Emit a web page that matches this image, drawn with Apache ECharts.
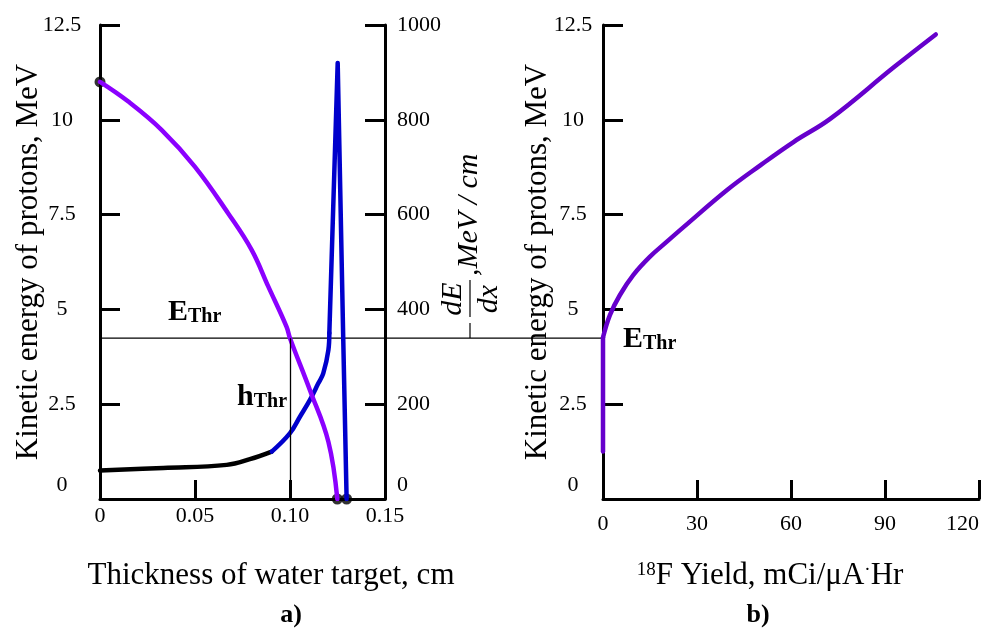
<!DOCTYPE html>
<html>
<head>
<meta charset="utf-8">
<title>Proton energy in water target and 18F yield</title>
<script src="https://cdn.jsdelivr.net/npm/echarts@6/dist/echarts.min.js"></script>
<style>
  html, body { margin: 0; padding: 0; background: #fff; }
  #main { width: 984px; height: 631px; }
</style>
</head>
<body>
<div id="main"></div>
<script>
// a) proton energy vs depth in water
var thickness = [0, 0.0149, 0.0325, 0.05, 0.0675, 0.0798, 0.0886, 0.0982, 0.1, 0.1105, 0.1202, 0.1249];
var energyA   = [11.0, 10.48, 9.73, 8.76, 7.53, 6.57, 5.60, 4.54, 4.24, 2.87, 1.51, 0];

// a) stopping power -dE/dx, black part and blue part
var thickLow  = [0, 0.0333, 0.0667, 0.0789, 0.0904];
var stopLow   = [60, 65.5, 72, 84, 100];
var thickHigh = [0.0904, 0.1, 0.1053, 0.1105, 0.1149, 0.1175, 0.1202, 0.1207, 0.1251, 0.128, 0.1298];
var stopHigh  = [100, 139, 174, 209, 244, 265, 314, 350, 920, 342, 0];

// b) 18F yield vs proton energy (first point: bottom of the vertical part)
var yieldF  = [0, 0, 2.2, 5.4, 9.7, 15.0, 20.3, 25.7, 39.6, 50.2, 60.9, 72.6, 92.9, 106.2];
var energyB = [1.25, 4.26, 4.85, 5.38, 5.91, 6.39, 6.78, 7.17, 8.15, 8.80, 9.42, 10.03, 11.39, 12.25];

// threshold
var eThr = 4.24;
var hThr = 0.10;

var serif = '"Liberation Serif", "Times New Roman", serif';

function pairs(xs, ys) {
  return xs.map(function (x, i) { return [x, ys[i]]; });
}

var axisLine = { onZero: false, lineStyle: { color: '#000', width: 3 } };
var axisTick = { inside: true, length: 20, lineStyle: { color: '#000', width: 3 } };
var zeroUp = { z: { fontFamily: serif, fontSize: 22, color: '#000', padding: [0, 0, 28, 0] } };

function yLabel(v) {
  return v === 0 ? '{z|0}' : String(v);
}

var yieldPts = pairs(yieldF, energyB);

var chart = echarts.init(document.getElementById('main'));

chart.setOption({
  animation: false,
  backgroundColor: '#fff',
  grid: [
    { left: 100, top: 25, width: 285, height: 474, outerBoundsMode: 'none' },
    { left: 603, top: 25, width: 376, height: 474, outerBoundsMode: 'none' }
  ],
  xAxis: [
    {
      gridIndex: 0, type: 'value', min: 0, max: 0.15, interval: 0.05,
      axisLine: axisLine,
      axisTick: { inside: true, length: 19, lineStyle: { color: '#000', width: 3 } },
      splitLine: { show: false },
      axisLabel: {
        margin: 6, color: '#000', fontFamily: serif, fontSize: 22,
        formatter: function (v) { return v === 0 ? '0' : v.toFixed(2); }
      }
    },
    {
      gridIndex: 1, type: 'value', min: 0, max: 120, interval: 30,
      axisLine: axisLine,
      axisTick: { inside: true, length: 19, lineStyle: { color: '#000', width: 3 } },
      splitLine: { show: false },
      axisLabel: { margin: 14, color: '#000', fontFamily: serif, fontSize: 22, alignMaxLabel: 'right' }
    }
  ],
  yAxis: [
    {
      gridIndex: 0, type: 'value', position: 'left', min: 0, max: 12.5, interval: 2.5,
      name: 'Kinetic energy of protons, MeV', nameLocation: 'middle', nameGap: 56, nameMoveOverlap: false,
      nameTextStyle: { color: '#000', fontFamily: serif, fontSize: 31 },
      axisLine: axisLine, axisTick: axisTick, splitLine: { show: false },
      axisLabel: { align: 'center', margin: 38, color: '#000', fontFamily: serif, fontSize: 22, formatter: yLabel, rich: zeroUp }
    },
    {
      gridIndex: 0, type: 'value', position: 'right', min: 0, max: 1000, interval: 200,
      axisLine: axisLine, axisTick: axisTick, splitLine: { show: false },
      axisLabel: { margin: 12, color: '#000', fontFamily: serif, fontSize: 22, formatter: yLabel, rich: zeroUp }
    },
    {
      gridIndex: 1, type: 'value', position: 'left', min: 0, max: 12.5, interval: 2.5,
      name: 'Kinetic energy of protons, MeV', nameLocation: 'middle', nameGap: 50, nameMoveOverlap: false,
      nameTextStyle: { color: '#000', fontFamily: serif, fontSize: 31 },
      axisLine: axisLine, axisTick: axisTick, splitLine: { show: false },
      axisLabel: { align: 'center', margin: 30, color: '#000', fontFamily: serif, fontSize: 22, formatter: yLabel, rich: zeroUp }
    }
  ],
  series: [
    {
      name: 'energy', type: 'line', xAxisIndex: 0, yAxisIndex: 0,
      data: pairs(thickness, energyA), symbol: 'none', smooth: 0.4, z: 4,
      lineStyle: { color: '#8B00FF', width: 4.5, cap: 'round', join: 'round' },
      markLine: {
        silent: true, symbol: 'none', animation: false, label: { show: false },
        lineStyle: { color: '#000', width: 1.3, type: 'solid' },
        data: [[{ coord: [hThr, eThr] }, { coord: [hThr, 0] }]]
      }
    },
    {
      name: 'dEdx low', type: 'line', xAxisIndex: 0, yAxisIndex: 1,
      data: pairs(thickLow, stopLow), symbol: 'none', smooth: 0.4, z: 3,
      lineStyle: { color: '#000', width: 4.5, cap: 'round', join: 'round' }
    },
    {
      name: 'dEdx high', type: 'line', xAxisIndex: 0, yAxisIndex: 1,
      data: pairs(thickHigh.slice(0, 8), stopHigh.slice(0, 8)), symbol: 'none', smooth: 0.4, z: 3,
      lineStyle: { color: '#0000CC', width: 4.5, cap: 'round', join: 'round' }
    },
    {
      name: 'dEdx peak', type: 'line', xAxisIndex: 0, yAxisIndex: 1,
      data: pairs(thickHigh.slice(7), stopHigh.slice(7)), symbol: 'none', z: 3,
      lineStyle: { color: '#0000CC', width: 4.5, cap: 'round', join: 'round' }
    },
    {
      name: 'yield below threshold', type: 'line', xAxisIndex: 1, yAxisIndex: 2,
      data: yieldPts.slice(0, 2), symbol: 'none', z: 4,
      lineStyle: { color: '#6600CC', width: 4.5, cap: 'round', join: 'round' }
    },
    {
      name: 'yield', type: 'line', xAxisIndex: 1, yAxisIndex: 2,
      data: yieldPts.slice(1), symbol: 'none', smooth: 0.4, z: 4,
      lineStyle: { color: '#6600CC', width: 4.5, cap: 'round', join: 'round' }
    },
    {
      type: 'scatter', xAxisIndex: 0, yAxisIndex: 0, clip: false, z: 2,
      symbolSize: 11, itemStyle: { color: '#000' },
      data: [[thickness[0], energyA[0]], [thickness[thickness.length - 1], energyA[energyA.length - 1]]]
    },
    {
      type: 'scatter', xAxisIndex: 0, yAxisIndex: 1, clip: false, z: 2,
      symbolSize: 11, itemStyle: { color: '#000' },
      data: [[thickHigh[thickHigh.length - 1], stopHigh[stopHigh.length - 1]]]
    }
  ]
});

// threshold line across both panels and the text annotations
var p0 = chart.convertToPixel({ gridIndex: 0 }, [0, eThr]);
var p1 = chart.convertToPixel({ gridIndex: 1 }, [0, eThr]);

var boldRich = {
  e: { fontFamily: serif, fontSize: 30, fontWeight: 'bold', fill: '#000' },
  s: { fontFamily: serif, fontSize: 20, fontWeight: 'bold', fill: '#000', verticalAlign: 'bottom' }
};

function subLabel(x, y, main) {
  return {
    type: 'text', x: x, y: y, silent: true,
    style: { text: '{e|' + main + '}{s|Thr}', rich: boldRich, align: 'left', verticalAlign: 'middle' }
  };
}

chart.setOption({
  graphic: [
    {
      type: 'line', silent: true, z: 1,
      shape: { x1: p0[0], y1: p0[1], x2: p1[0], y2: p1[1] },
      style: { stroke: '#000', lineWidth: 1.3 }
    },
    subLabel(168, 312, 'E'),
    subLabel(237, 397, 'h'),
    subLabel(623, 339, 'E'),
    {
      type: 'group', x: 470, y: 338, rotation: Math.PI / 2, silent: true,
      children: [
        { type: 'line', shape: { x1: 0, y1: 0, x2: 15, y2: 0 }, style: { stroke: '#000', lineWidth: 1.2 } },
        { type: 'line', shape: { x1: 21, y1: 0, x2: 58, y2: 0 }, style: { stroke: '#000', lineWidth: 1.2 } },
        { type: 'text', x: 39, y: -2, style: { text: 'dE', font: 'italic 30px ' + serif, fill: '#000', align: 'center', verticalAlign: 'bottom' } },
        { type: 'text', x: 39, y: 4, style: { text: 'dx', font: 'italic 30px ' + serif, fill: '#000', align: 'center', verticalAlign: 'top' } },
        { type: 'text', x: 62, y: -1, style: { text: ',MeV / cm', font: 'italic 30px ' + serif, fill: '#000', align: 'left', verticalAlign: 'middle' } }
      ]
    },
    {
      type: 'text', x: 271, y: 576, silent: true,
      style: { text: 'Thickness of water target, cm', font: '31px ' + serif, fill: '#000', align: 'center', verticalAlign: 'middle' }
    },
    {
      type: 'text', x: 291, y: 615, silent: true,
      style: { text: 'a)', font: 'bold 26px ' + serif, fill: '#000', align: 'center', verticalAlign: 'middle' }
    },
    {
      type: 'text', x: 770, y: 576, silent: true,
      style: {
        text: '{s|18}{n|F Yield, mCi/\u03bcA}{s|\u00b7}{n|Hr}',
        align: 'center', verticalAlign: 'middle',
        rich: {
          n: { fontFamily: serif, fontSize: 31, fill: '#000' },
          s: { fontFamily: serif, fontSize: 19, fill: '#000', verticalAlign: 'top' }
        }
      }
    },
    {
      type: 'text', x: 758, y: 615, silent: true,
      style: { text: 'b)', font: 'bold 26px ' + serif, fill: '#000', align: 'center', verticalAlign: 'middle' }
    }
  ]
});
</script>
</body>
</html>
